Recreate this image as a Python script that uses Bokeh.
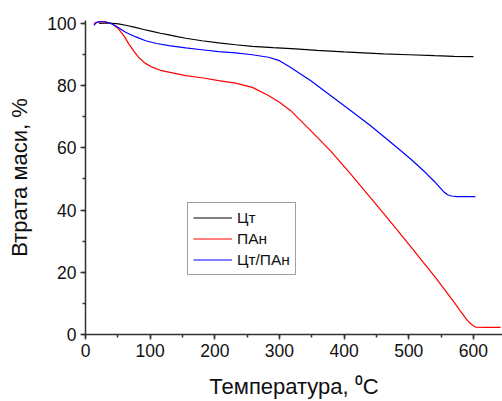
from bokeh.plotting import figure
from bokeh.models import Range1d, Legend, LegendItem, FixedTicker
from bokeh.embed import file_html
from bokeh.resources import INLINE

# Цт
t_ct = [21, 35, 51, 64, 77, 90, 103, 116, 129, 142, 155, 180, 206, 232, 258, 290, 325, 358, 400, 430, 461, 500, 540, 570, 600]
m_ct = [100.0, 100.1, 99.8, 99.3, 98.7, 98.0, 97.4, 96.8, 96.3, 95.7, 95.2, 94.4, 93.7, 93.1, 92.6, 92.2, 91.8, 91.3, 90.8, 90.5, 90.2, 89.9, 89.6, 89.4, 89.3]

# ПАн
t_pan = [13, 20, 31, 42, 51, 60, 67, 75, 82, 92, 103, 116, 129, 155, 180, 206, 232, 258, 283, 300, 317, 348, 379, 410, 441, 461, 482, 503, 520, 539, 555, 570, 580, 590, 597, 603, 620, 642]
m_pan = [100.0, 100.4, 100.5, 99.7, 98.2, 95.8, 93.4, 91.0, 89.1, 87.2, 85.9, 84.9, 84.3, 83.2, 82.5, 81.6, 80.8, 79.4, 76.8, 74.6, 72.0, 65.6, 59.0, 51.6, 43.9, 38.9, 33.6, 28.2, 23.8, 18.9, 14.6, 10.4, 7.5, 4.7, 3.2, 2.4, 2.3, 2.3]

# Цт/ПАн
t_cp = [13, 17, 21, 30, 39, 50, 62, 77, 93, 110, 129, 155, 180, 206, 232, 258, 283, 300, 317, 332, 348, 379, 410, 441, 472, 503, 525, 540, 548, 555, 560, 566, 575, 603]
m_cp = [99.3, 100.3, 100.5, 100.5, 100.0, 98.7, 97.1, 95.7, 94.4, 93.5, 92.8, 92.1, 91.5, 90.9, 90.5, 89.9, 89.1, 88.0, 85.9, 83.8, 81.6, 76.8, 72.0, 67.1, 61.8, 56.4, 52.2, 49.1, 47.3, 45.7, 44.9, 44.5, 44.3, 44.3]

x_ticks = [0, 100, 200, 300, 400, 500, 600]
y_ticks = [0, 20, 40, 60, 80, 100]

FONT = "Liberation Sans"

p = figure(width=502, height=401, output_backend="svg", toolbar_location=None,
           x_range=Range1d(0, 645), y_range=Range1d(0, 100.9),
           min_border_left=85, min_border_right=0, min_border_top=20, min_border_bottom=67)
p.outline_line_color = None
p.xgrid.grid_line_color = None
p.ygrid.grid_line_color = None
p.background_fill_color = "white"

r1 = p.line(t_ct, m_ct, line_color="black", line_width=1.2)
r2 = p.line(t_pan, m_pan, line_color="red", line_width=1.2)
r3 = p.line(t_cp, m_cp, line_color="blue", line_width=1.2)

for ax in (p.xaxis[0], p.yaxis[0]):
    ax.axis_line_color = "#333333"
    ax.axis_line_width = 1.5
    ax.major_tick_line_color = "#333333"
    ax.minor_tick_line_color = "#333333"
    ax.major_tick_line_width = 1.5
    ax.minor_tick_line_width = 1.5
    ax.major_tick_in = 0
    ax.major_tick_out = 5
    ax.minor_tick_in = 0
    ax.minor_tick_out = 3
    ax.major_label_text_font = FONT
    ax.major_label_text_font_size = "17.5px"
    ax.major_label_text_color = "#111111"
    ax.axis_label_text_font = FONT
    ax.axis_label_text_font_style = "normal"
    ax.axis_label_text_font_size = "22px"
    ax.axis_label_text_color = "#111111"

p.xaxis[0].ticker = FixedTicker(ticks=x_ticks, minor_ticks=list(range(0, 651, 50)))
p.yaxis[0].ticker = FixedTicker(ticks=y_ticks, minor_ticks=list(range(0, 101, 10)))
p.xaxis[0].axis_label = "Температура, ⁰C"
p.yaxis[0].axis_label = "Втрата маси, %"
p.xaxis[0].major_label_standoff = 4
p.yaxis[0].major_label_standoff = 4
p.xaxis[0].axis_label_standoff = 14
p.yaxis[0].axis_label_standoff = 12

legend = Legend(items=[LegendItem(label="Цт", renderers=[r1]),
                       LegendItem(label="ПАн", renderers=[r2]),
                       LegendItem(label="Цт/ПАн", renderers=[r3])],
                location=(102, 59))
legend.border_line_color = "#444444"
legend.border_line_width = 1.5
legend.label_text_font = FONT
legend.label_text_font_size = "15.5px"
legend.label_text_color = "#111111"
legend.glyph_width = 39
legend.glyph_height = 19
legend.label_height = 19
legend.label_standoff = 5
legend.spacing = 2
legend.padding = 5
legend.margin = 0
legend.background_fill_alpha = 1
p.add_layout(legend, "center")

open("out.html", "w").write(file_html(p, INLINE))
